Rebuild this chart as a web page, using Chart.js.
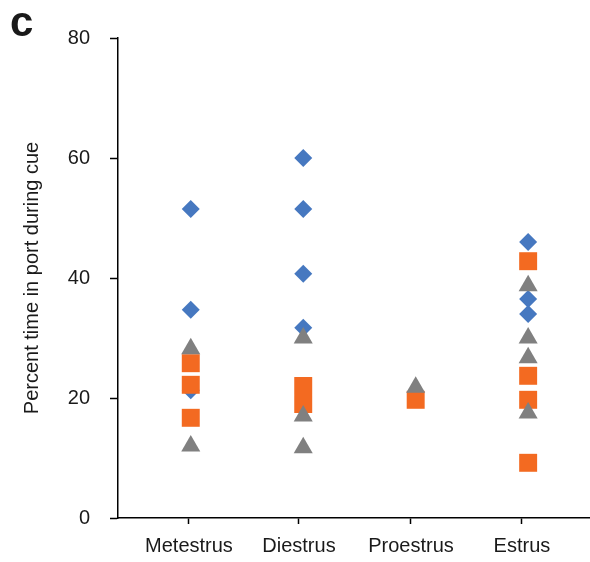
<!DOCTYPE html>
<html>
<head>
<meta charset="utf-8">
<script src="https://cdn.jsdelivr.net/npm/chart.js@4"></script>
<style>
  body { margin: 0; background: #fff; }
  #wrap { position: relative; width: 590px; height: 562px; }
  #panel { position: absolute; left: 10px; top: 1px; font: bold 42px "Liberation Sans", Arial, sans-serif; line-height: 42px; color: #1a1a1a; }
</style>
</head>
<body>
<div id="wrap">
  <canvas id="stageChart" width="590" height="562"></canvas>
  <div id="panel">c</div>
</div>
<script>
// estrous stages on the x axis
const stages = ['Metestrus', 'Diestrus', 'Proestrus', 'Estrus'];
// where the stage ticks sit on the x axis (slightly left of the marker columns)
const stageTicks = [0.984, 1.962, 2.958, 3.945];
const yTicks = [0, 20, 40, 60, 80];

// percent time in port during cue, one list per stage
const blueValues = [[51.5, 34.7, 21.3], [60, 51.5, 40.7, 31.7], [], [46, 36.5, 34]];
const orangeValues = [[25.8, 22.2, 16.7], [22, 19], [19.7], [42.8, 23.7, 19.7, 9.2]];
const grayValues = [[28.2, 12], [30, 17, 11.7], [21.8], [38.7, 30, 26.7, 17.5]];

function toPoints(values) {
    const pts = [];
    values.forEach((list, i) => {
        list.forEach(v => pts.push({ x: i + 1, y: v }));
    });
    return pts;
}

document.addEventListener("DOMContentLoaded", function() {
    const ctx = document.getElementById('stageChart').getContext('2d');
    const font = { family: '"Liberation Sans", Arial, sans-serif', size: 20 };

    new Chart(ctx, {
        type: 'scatter',
        data: {
            datasets: [
                {
                    label: 'gray',
                    data: toPoints(grayValues),
                    pointStyle: 'triangle',
                    pointRadius: 11,
                    backgroundColor: '#808080',
                    borderWidth: 0,
                    order: 1
                },
                {
                    label: 'orange',
                    data: toPoints(orangeValues),
                    pointStyle: 'rect',
                    pointRadius: 12.7,
                    backgroundColor: '#F36A21',
                    borderWidth: 0,
                    order: 2
                },
                {
                    label: 'blue',
                    data: toPoints(blueValues),
                    pointStyle: 'rectRot',
                    pointRadius: 9,
                    backgroundColor: '#4678C0',
                    borderWidth: 0,
                    order: 3
                }
            ]
        },
        options: {
            responsive: false,
            animation: false,
            devicePixelRatio: 1,
            layout: {
                autoPadding: false,
                padding: { top: 38, left: 0, right: 0, bottom: 0 }
            },
            plugins: {
                legend: { display: false },
                tooltip: { enabled: false }
            },
            scales: {
                x: {
                    type: 'linear',
                    min: 0.353,
                    max: 4.55,
                    afterBuildTicks: scale => {
                        scale.ticks = stageTicks.map(v => ({ value: v }));
                    },
                    afterFit: scale => {
                        scale.height = 44;
                        // ticks sit well inside the axis, no edge room needed
                        scale.paddingLeft = 0;
                        scale.paddingRight = 0;
                    },
                    ticks: {
                        callback: (v, i) => stages[i],
                        autoSkip: false,
                        maxRotation: 0,
                        padding: 10,
                        color: '#1a1a1a',
                        font: font
                    },
                    grid: {
                        drawOnChartArea: false,
                        drawTicks: true,
                        tickLength: 6,
                        tickColor: '#000',
                        tickWidth: 1.5
                    },
                    border: { display: true, color: '#000', width: 1.5 }
                },
                y: {
                    min: 0,
                    max: 80,
                    afterBuildTicks: scale => {
                        scale.ticks = yTicks.map(v => ({ value: v }));
                    },
                    afterFit: scale => { scale.width = 118; },
                    ticks: {
                        padding: 20,
                        color: '#1a1a1a',
                        font: font
                    },
                    grid: {
                        drawOnChartArea: false,
                        drawTicks: true,
                        tickLength: 8,
                        tickColor: '#000',
                        tickWidth: 1.5
                    },
                    border: { display: true, color: '#000', width: 1.5 },
                    title: {
                        display: true,
                        text: 'Percent time in port during cue',
                        color: '#1a1a1a',
                        font: font,
                        padding: { top: 20, bottom: 0 }
                    }
                }
            }
        }
    });
});
</script>
</body>
</html>
